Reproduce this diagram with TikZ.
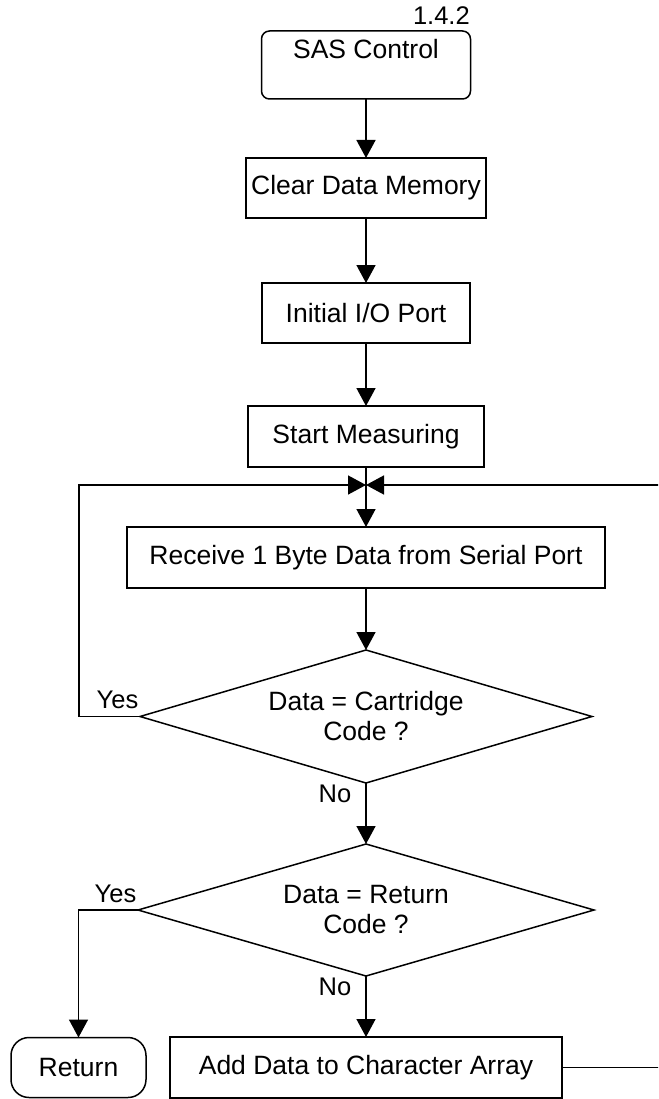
\documentclass[tikz,border=0pt]{standalone}
\usepackage{fontspec}
\setmainfont{Liberation Sans}
\usepackage{tikz}
\usetikzlibrary{positioning,shapes.geometric,arrows.meta}

\begin{document}
\begin{tikzpicture}[node distance = 0mm, line width=1.5pt, font=\fontsize{26.5}{30}\selectfont,
  box/.style args = {#1,#2}{draw,minimum width=#1,minimum height=#2,inner sep=0pt,outer sep=0pt},
  term/.style args = {#1,#2}{draw,rounded corners=8pt,minimum width=#1,minimum height=#2,inner sep=0pt,outer sep=0pt},
  decision/.style args = {#1,#2}{draw,diamond,aspect=3.4,align=center,minimum width=#1,minimum height=#2,inner sep=0pt,outer sep=0pt},
  lbl/.style = {font=\fontsize{25.5}{28}\selectfont,inner sep=1pt},
  flow/.style = {-{Triangle[length=18pt,width=19pt]}}]
\useasboundingbox (0,0) rectangle (658pt,-1099pt);
\clip (0,0) rectangle (658pt,-1099pt);

\node (sas) [term={209pt,68pt}, text height=19pt, text depth=32pt] at (366pt,-65pt) {SAS Control};
\node (num) [lbl, inner sep=0pt, above=6pt of sas.north east, anchor=south east]{1.4.2};

\node (clear) [box={240pt,60pt}, below=59pt of sas]{Clear Data Memory};
\node (init) [box={208pt,60pt}, below=65pt of clear]{Initial I/O Port};
\node (start) [box={236pt,61pt}, below=63pt of init]{Start Measuring};
\node (recv) [box={478pt,61pt}, below=60pt of start]{Receive 1 Byte Data from Serial Port};
\node (dec1) [decision={452pt,133pt}, below=62pt of recv]{Data = Cartridge\\Code ?};
\node (dec2) [decision={456pt,132pt}, below=61pt of dec1]{Data = Return\\Code ?};
\node (add) [box={392pt,61pt}, below=61pt of dec2]{Add Data to Character Array};
\node (ret) [term={135pt,60pt}, rounded corners=18pt, left=24pt of add]{Return};

% where the two loops come back in
\coordinate (join) at ([yshift=-18pt]start.south);

\draw[flow] (sas) -- (clear);
\draw[flow] (clear) -- (init);
\draw[flow] (init) -- (start);
\draw[flow] (start) -- (recv);
\draw[flow] (recv) -- (dec1);
\draw[flow] (dec1) -- node[lbl, pos=0, anchor=north east, xshift=-13pt]{No} (dec2);
\draw[flow] (dec2) -- node[lbl, pos=0, anchor=north east, xshift=-13pt]{No} (add);

\draw[flow] (dec1.west) node[lbl, anchor=south east, yshift=6pt]{Yes} -- ++(-61pt,0) |- (join);
\draw[flow] (dec2.west) node[lbl, anchor=south east, yshift=6pt]{Yes} -| (ret.north);
\draw[flow] (add.east) -- ++(110pt,0) |- (join);
\end{tikzpicture}
\end{document}
